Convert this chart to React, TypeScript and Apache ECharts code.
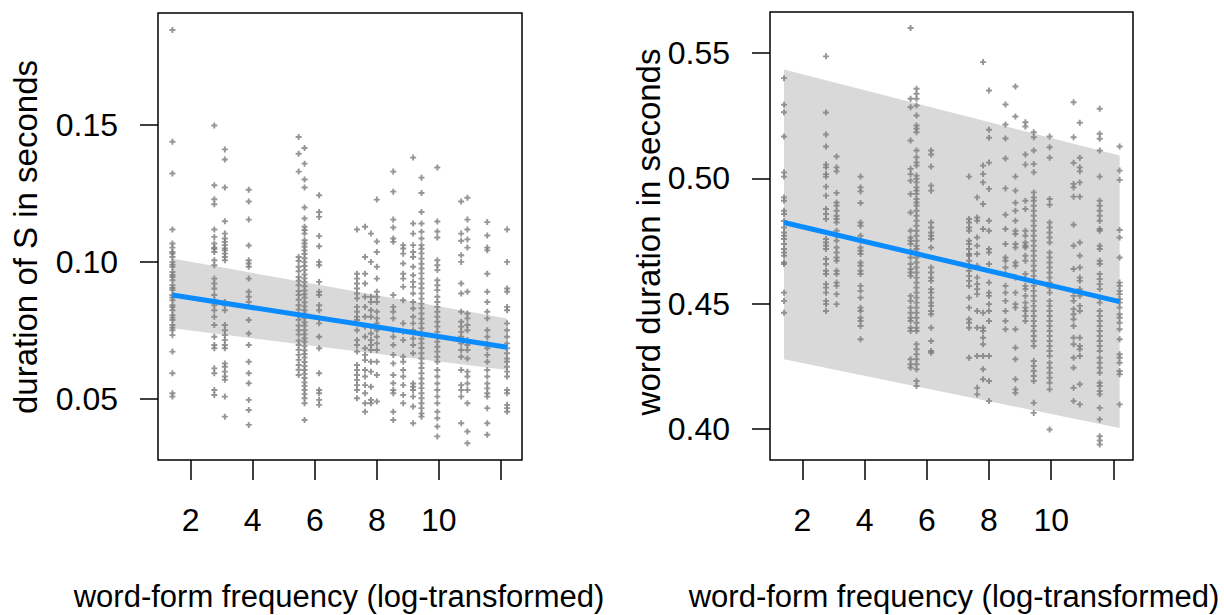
import { useEffect, useRef } from 'react';
import * as echarts from 'echarts';

// x positions (log word-form frequency) of the word columns, shared by both panels
const freqColumns = [1.41, 2.76, 3.1, 3.87, 5.48, 5.67, 6.14, 7.36, 7.62, 7.81, 8.0, 8.53, 8.85, 9.17, 9.44, 9.95, 10.72, 10.92, 11.56, 12.2];

// left panel: duration of S (seconds), one list per column
const durSByColumn: number[][] = [
  [0.1845, 0.1438, 0.1322, 0.1118, 0.1067, 0.1052, 0.1036, 0.103, 0.1018, 0.1, 0.099, 0.0982, 0.0963, 0.0952, 0.0945, 0.0933, 0.0915, 0.0905, 0.0897, 0.0879, 0.087, 0.086, 0.0842, 0.0835, 0.0824, 0.0806, 0.0797, 0.0788, 0.077, 0.076, 0.0751, 0.0733, 0.0673, 0.0594, 0.0521, 0.0509],
  [0.1497, 0.1279, 0.1228, 0.121, 0.1118, 0.1091, 0.1067, 0.1052, 0.1048, 0.1036, 0.1006, 0.0988, 0.0939, 0.0921, 0.0903, 0.0879, 0.086, 0.0842, 0.0824, 0.08, 0.077, 0.0727, 0.0697, 0.0685, 0.0612, 0.0594, 0.0533, 0.0515],
  [0.141, 0.1373, 0.1271, 0.1148, 0.1103, 0.1085, 0.1073, 0.1061, 0.1049, 0.1042, 0.103, 0.1018, 0.1006, 0.0854, 0.0842, 0.0824, 0.077, 0.0751, 0.0733, 0.0715, 0.0697, 0.0685, 0.063, 0.0618, 0.06, 0.0582, 0.057, 0.0509, 0.0436],
  [0.1263, 0.122, 0.1154, 0.106, 0.1006, 0.0994, 0.0982, 0.0939, 0.0891, 0.0873, 0.0854, 0.0788, 0.0739, 0.0697, 0.0636, 0.0594, 0.0558, 0.0497, 0.046, 0.0406],
  [0.1455, 0.1394, 0.1329, 0.1018, 0.1003, 0.0982, 0.0966, 0.0945, 0.0931, 0.0915, 0.0894, 0.0879, 0.0862, 0.0842, 0.0826, 0.0806, 0.0789, 0.0768, 0.0751, 0.0735, 0.0713, 0.0697, 0.068, 0.0661, 0.0643, 0.0624, 0.0607, 0.0588],
  [0.1415, 0.1358, 0.13, 0.1271, 0.1198, 0.1158, 0.1128, 0.1116, 0.1103, 0.1079, 0.1067, 0.1055, 0.1042, 0.1029, 0.1013, 0.0999, 0.0985, 0.097, 0.0954, 0.094, 0.0927, 0.0911, 0.0896, 0.0882, 0.0869, 0.0853, 0.0838, 0.0824, 0.0811, 0.0795, 0.078, 0.0767, 0.0751, 0.0736, 0.0722, 0.0709, 0.0693, 0.0678, 0.0664, 0.0651, 0.0635, 0.062, 0.0606, 0.0592, 0.0577, 0.0561, 0.0548, 0.0533, 0.0518, 0.0503, 0.0485, 0.0424],
  [0.1243, 0.1182, 0.1164, 0.1094, 0.1057, 0.1, 0.0988, 0.0927, 0.0891, 0.0879, 0.0842, 0.0824, 0.0794, 0.0776, 0.0727, 0.0685, 0.0594, 0.0533, 0.0521, 0.0497, 0.0479],
  [0.1118, 0.0957, 0.0939, 0.0921, 0.0903, 0.0885, 0.0867, 0.0836, 0.0818, 0.08, 0.0788, 0.0751, 0.0715, 0.0697, 0.0673, 0.0624, 0.0606, 0.0588, 0.057, 0.0551, 0.0533, 0.0503],
  [0.1128, 0.1018, 0.0957, 0.0921, 0.0873, 0.0836, 0.08, 0.0764, 0.0727, 0.0685, 0.0661, 0.0642, 0.0606, 0.0582, 0.0551, 0.0521, 0.0485, 0.0454],
  [0.1103, 0.1, 0.0873, 0.0854, 0.0824, 0.08, 0.0764, 0.0739, 0.0715, 0.0697, 0.0679, 0.0636, 0.06, 0.0545, 0.0497, 0.0485],
  [0.1227, 0.1074, 0.1036, 0.0982, 0.0939, 0.0891, 0.0873, 0.0854, 0.0818, 0.0794, 0.0776, 0.0751, 0.0727, 0.0703, 0.0679, 0.0636, 0.0588, 0.0491],
  [0.1329, 0.1256, 0.1154, 0.1125, 0.1085, 0.1073, 0.0879, 0.0836, 0.0818, 0.0794, 0.0751, 0.0727, 0.0697, 0.0661, 0.063, 0.0588, 0.0558, 0.0533, 0.0521, 0.0454, 0.0424],
  [0.1061, 0.1049, 0.103, 0.0994, 0.0957, 0.0939, 0.0909, 0.086, 0.0776, 0.0745, 0.0715, 0.0654, 0.0636, 0.0606, 0.0582, 0.0551, 0.0515, 0.0485],
  [0.138, 0.114, 0.1103, 0.1061, 0.1036, 0.1018, 0.0982, 0.0951, 0.0927, 0.0909, 0.0885, 0.0854, 0.083, 0.08, 0.0776, 0.0751, 0.0721, 0.0697, 0.0667, 0.0557, 0.0545, 0.0533, 0.0509, 0.0473, 0.0412],
  [0.1307, 0.1251, 0.1182, 0.114, 0.111, 0.1085, 0.1061, 0.1048, 0.1031, 0.1012, 0.0993, 0.0976, 0.0958, 0.0939, 0.0921, 0.0904, 0.0885, 0.0866, 0.0848, 0.0831, 0.0812, 0.0793, 0.0776, 0.0758, 0.0739, 0.072, 0.0703, 0.0686, 0.0667, 0.0648, 0.063, 0.0613, 0.0594, 0.0575, 0.0557, 0.054, 0.0521, 0.0503, 0.0485, 0.0467, 0.0448, 0.0436],
  [0.1344, 0.1147, 0.1111, 0.1089, 0.1006, 0.0988, 0.097, 0.0933, 0.0915, 0.0897, 0.0873, 0.0854, 0.0836, 0.0818, 0.08, 0.0782, 0.0764, 0.0745, 0.0727, 0.0709, 0.0691, 0.0673, 0.0654, 0.0636, 0.0606, 0.0582, 0.0557, 0.0533, 0.0509, 0.0485, 0.0454, 0.043, 0.04, 0.0364],
  [0.122, 0.1103, 0.1077, 0.1024, 0.1, 0.0921, 0.0885, 0.0818, 0.0782, 0.0764, 0.0745, 0.0727, 0.0703, 0.0679, 0.0654, 0.0606, 0.0551, 0.0533, 0.0509, 0.0412],
  [0.1234, 0.1154, 0.1118, 0.1082, 0.1052, 0.0891, 0.0812, 0.0794, 0.077, 0.0751, 0.0715, 0.0697, 0.0679, 0.0648, 0.06, 0.0582, 0.0557, 0.0533, 0.0485, 0.0382, 0.0339],
  [0.1145, 0.1096, 0.1052, 0.1042, 0.0957, 0.0891, 0.0854, 0.0818, 0.0794, 0.0751, 0.0727, 0.0703, 0.0685, 0.0661, 0.0636, 0.0606, 0.0582, 0.0557, 0.0539, 0.0521, 0.0509, 0.0467, 0.0412, 0.037],
  [0.1118, 0.1, 0.0903, 0.0891, 0.0836, 0.0824, 0.0776, 0.0751, 0.0727, 0.0703, 0.0685, 0.0667, 0.0648, 0.0636, 0.0618, 0.06, 0.0582, 0.0533, 0.0521, 0.0479, 0.0467, 0.0454],
];

// right panel: word duration (seconds), one list per column
const wordDurByColumn: number[][] = [
  [0.54, 0.5294, 0.5264, 0.5167, 0.5024, 0.5007, 0.4924, 0.4911, 0.4871, 0.4858, 0.483, 0.4804, 0.4784, 0.4771, 0.4758, 0.4738, 0.4718, 0.4704, 0.4691, 0.4664, 0.4658, 0.4544, 0.4511, 0.4464],
  [0.5487, 0.5263, 0.5175, 0.5127, 0.5055, 0.5044, 0.5017, 0.5007, 0.4967, 0.4931, 0.4878, 0.4858, 0.4838, 0.4758, 0.4744, 0.4731, 0.4718, 0.4678, 0.4658, 0.4631, 0.4618, 0.4578, 0.4564, 0.4544, 0.4511, 0.4498, 0.4471],
  [0.5087, 0.5044, 0.5028, 0.4942, 0.4904, 0.4891, 0.4871, 0.4851, 0.4838, 0.4824, 0.4791, 0.4771, 0.4751, 0.4724, 0.4704, 0.4684, 0.4671, 0.4631, 0.4618, 0.4584, 0.4571, 0.4538, 0.4498],
  [0.5007, 0.4964, 0.4948, 0.4902, 0.4824, 0.4811, 0.4771, 0.4751, 0.4724, 0.4711, 0.4698, 0.4664, 0.4651, 0.4631, 0.4618, 0.4571, 0.4551, 0.4524, 0.4484, 0.4471, 0.4444, 0.4431, 0.4411, 0.4358],
  [0.56, 0.5318, 0.5284, 0.5151, 0.5038, 0.5017, 0.4991, 0.4938, 0.4864, 0.4791, 0.4764, 0.4751, 0.4738, 0.4711, 0.4684, 0.4658, 0.4638, 0.4624, 0.4611, 0.4531, 0.4511, 0.4484, 0.4464, 0.4444, 0.4431, 0.4404, 0.4391, 0.4278, 0.4258, 0.4244],
  [0.5358, 0.5338, 0.5318, 0.5291, 0.5251, 0.5211, 0.5198, 0.5184, 0.5111, 0.5084, 0.5064, 0.5051, 0.5011, 0.4998, 0.4984, 0.4964, 0.4951, 0.4938, 0.4918, 0.4904, 0.4891, 0.4871, 0.4851, 0.4831, 0.4811, 0.4791, 0.4771, 0.4751, 0.4731, 0.4718, 0.4704, 0.4684, 0.4664, 0.4644, 0.4624, 0.4604, 0.4584, 0.4564, 0.4544, 0.4524, 0.4504, 0.4484, 0.4464, 0.4444, 0.4424, 0.4404, 0.4391, 0.4338, 0.4318, 0.4298, 0.4278, 0.4258, 0.4238, 0.4191, 0.4171],
  [0.5111, 0.5095, 0.5047, 0.4971, 0.4951, 0.4824, 0.4804, 0.4784, 0.4771, 0.4758, 0.4724, 0.4644, 0.4624, 0.4604, 0.4591, 0.4558, 0.4544, 0.4524, 0.4504, 0.4491, 0.4471, 0.4458, 0.4404, 0.4351, 0.4311, 0.4304],
  [0.5007, 0.4838, 0.4824, 0.4804, 0.4791, 0.4751, 0.4738, 0.4718, 0.4698, 0.4691, 0.4671, 0.4651, 0.4631, 0.4611, 0.4591, 0.4571, 0.4524, 0.4484, 0.4438, 0.4424, 0.4404, 0.4284],
  [0.4924, 0.4844, 0.4831, 0.4764, 0.4731, 0.4698, 0.4651, 0.4604, 0.4578, 0.4558, 0.4538, 0.4471, 0.4404, 0.4291, 0.4164, 0.4138],
  [0.5464, 0.5051, 0.5017, 0.4984, 0.4898, 0.4798, 0.4464, 0.4404, 0.4391, 0.4364, 0.4338, 0.4291, 0.4238, 0.4198],
  [0.5351, 0.5194, 0.5162, 0.5063, 0.4958, 0.4831, 0.4791, 0.4718, 0.4704, 0.4658, 0.4584, 0.4544, 0.4531, 0.4498, 0.4471, 0.4431, 0.4291, 0.4191, 0.4111],
  [0.5295, 0.5215, 0.5159, 0.5079, 0.496, 0.4855, 0.4798, 0.4738, 0.4684, 0.4671, 0.4644, 0.4618, 0.4571, 0.4544, 0.4511, 0.4471, 0.4431, 0.4398],
  [0.5367, 0.5247, 0.5007, 0.4951, 0.4903, 0.4871, 0.4831, 0.4791, 0.4778, 0.4738, 0.4724, 0.4664, 0.4651, 0.4604, 0.4544, 0.4498, 0.4484, 0.4398, 0.4324, 0.4278, 0.4198, 0.4158, 0.4144],
  [0.5224, 0.5207, 0.5095, 0.5055, 0.4911, 0.4878, 0.4791, 0.4771, 0.4744, 0.4731, 0.4724, 0.4691, 0.4671, 0.4618, 0.4598, 0.4571, 0.4558, 0.4531, 0.4504, 0.4484, 0.4471, 0.4451, 0.4431],
  [0.5184, 0.5164, 0.5111, 0.5057, 0.5024, 0.4944, 0.4924, 0.4911, 0.4891, 0.4871, 0.4851, 0.4831, 0.4811, 0.4791, 0.4771, 0.4751, 0.4731, 0.4711, 0.4691, 0.4671, 0.4651, 0.4631, 0.4611, 0.4591, 0.4571, 0.4551, 0.4531, 0.4511, 0.4491, 0.4471, 0.4451, 0.4431, 0.4411, 0.4391, 0.4371, 0.4351, 0.4331, 0.4271, 0.4251, 0.4231, 0.4211, 0.4191, 0.4104, 0.4064],
  [0.5167, 0.5124, 0.5082, 0.4918, 0.4895, 0.4824, 0.4804, 0.4784, 0.4764, 0.4744, 0.4704, 0.4684, 0.4664, 0.4644, 0.4624, 0.4604, 0.4584, 0.4564, 0.4544, 0.4511, 0.4491, 0.4471, 0.4451, 0.4431, 0.4411, 0.4391, 0.4371, 0.4351, 0.4331, 0.4311, 0.4291, 0.4264, 0.4244, 0.4224, 0.4204, 0.4184, 0.4158, 0.3998],
  [0.5304, 0.5164, 0.5062, 0.4978, 0.4964, 0.4927, 0.4815, 0.4731, 0.4638, 0.4531, 0.4511, 0.4478, 0.4458, 0.4438, 0.4411, 0.4364, 0.4338, 0.4284, 0.4244, 0.4164, 0.4111],
  [0.5222, 0.5082, 0.5044, 0.5028, 0.4984, 0.4927, 0.4744, 0.4691, 0.4644, 0.4604, 0.4591, 0.4558, 0.4531, 0.4491, 0.4471, 0.4364, 0.4331, 0.4318, 0.4291, 0.4178, 0.4098],
  [0.5278, 0.5178, 0.5158, 0.5111, 0.5007, 0.4911, 0.4891, 0.4871, 0.4851, 0.4831, 0.4798, 0.4791, 0.4731, 0.4718, 0.4671, 0.4658, 0.4618, 0.4598, 0.4578, 0.4558, 0.4524, 0.4504, 0.4471, 0.4451, 0.4431, 0.4411, 0.4391, 0.4371, 0.4351, 0.4331, 0.4311, 0.4284, 0.4264, 0.4244, 0.4224, 0.4184, 0.4171, 0.4151, 0.4138, 0.4084, 0.4038, 0.3971, 0.3954, 0.3938],
  [0.5127, 0.5031, 0.4994, 0.4794, 0.4764, 0.4684, 0.4584, 0.4571, 0.4551, 0.4538, 0.4518, 0.4504, 0.4484, 0.4458, 0.4444, 0.4424, 0.4398, 0.4358, 0.4298, 0.4284, 0.4264, 0.4231, 0.4218, 0.4098],
];

// fitted regression lines with their bands (at the ends of the frequency range)
const fitX = [1.41, 12.2];
const durSFit = [0.0879, 0.0689];
const durSUpper = [0.1012, 0.0794];
const durSLower = [0.0758, 0.0606];
const wordDurFit = [0.4824, 0.4508];
const wordDurUpper = [0.5435, 0.5091];
const wordDurLower = [0.4278, 0.4004];

// axes
const xTicks = [2, 4, 6, 8, 10, 12];
const xTickLabels = [2, 4, 6, 8, 10];
const durSTicks = [0.05, 0.1, 0.15];
const wordDurTicks = [0.4, 0.45, 0.5, 0.55];

const xTitle = 'word-form frequency (log-transformed)';
const durSTitle = 'duration of S in seconds';
const wordDurTitle = 'word duration in seconds';

const FONT = '"Liberation Sans", Arial, sans-serif';
const PLUS = 'path://M3.4,0H6.6V3.4H10V6.6H6.6V10H3.4V6.6H0V3.4H3.4Z';
const POINT = '#7a7a7a';
const BAND = '#d9d9d9';
const LINE = '#0a8cff';

function xAxisCfg(gridIndex: number, min: number, max: number) {
  return {
    gridIndex,
    type: 'value',
    min,
    max,
    axisLine: { show: false, onZero: false },
    splitLine: { show: false },
    axisTick: { show: true, customValues: xTicks, length: 20, lineStyle: { color: '#000', width: 1.5 } },
    axisLabel: {
      customValues: xTickLabels,
      margin: 44,
      fontSize: 32,
      lineHeight: 32,
      color: '#000',
      fontFamily: FONT,
    },
  };
}

function yAxisCfg(gridIndex: number, min: number, max: number, ticks: number[], pad: number) {
  return {
    gridIndex,
    type: 'value',
    min,
    max,
    axisLine: { show: false, onZero: false },
    splitLine: { show: false },
    axisTick: { show: true, customValues: ticks, length: 18, lineStyle: { color: '#000', width: 1.5 } },
    axisLabel: {
      customValues: ticks,
      formatter: (v: number) => v.toFixed(2),
      margin: 40,
      fontSize: 32,
      lineHeight: 32,
      padding: [pad, 0, 0, 0],
      color: '#000',
      fontFamily: FONT,
    },
  };
}

function bandSeries(idx: number, upper: number[], lower: number[]) {
  return {
    type: 'custom',
    xAxisIndex: idx,
    yAxisIndex: idx,
    silent: true,
    z: 1,
    data: [[fitX[0], lower[0]]],
    renderItem: (_params: any, api: any) => ({
      type: 'polygon',
      shape: {
        points: [
          api.coord([fitX[0], upper[0]]),
          api.coord([fitX[1], upper[1]]),
          api.coord([fitX[1], lower[1]]),
          api.coord([fitX[0], lower[0]]),
        ],
      },
      style: { fill: BAND },
    }),
  };
}

function pointSeries(idx: number, byColumn: number[][]) {
  return {
    type: 'scatter',
    xAxisIndex: idx,
    yAxisIndex: idx,
    z: 2,
    symbol: PLUS,
    symbolSize: 6,
    itemStyle: { color: POINT },
    data: freqColumns.flatMap((x, i) => byColumn[i].map((v) => [x, v])),
  };
}

function fitSeries(idx: number, fit: number[]) {
  return {
    type: 'line',
    xAxisIndex: idx,
    yAxisIndex: idx,
    z: 3,
    showSymbol: false,
    lineStyle: { color: LINE, width: 5 },
    data: fitX.map((x, i) => [x, fit[i]]),
  };
}

export default function App() {
  const ref = useRef<HTMLDivElement>(null);
  useEffect(() => {
    if (!ref.current) return;
    const chart = echarts.init(ref.current, null, { renderer: 'svg' });
    chart.setOption({
      animation: false,
      backgroundColor: '#fff',
      grid: [
        { left: 158, top: 13, width: 364, height: 447, show: true, borderColor: '#000', borderWidth: 1.5, backgroundColor: 'transparent' },
        { left: 770, top: 12, width: 363, height: 448, show: true, borderColor: '#000', borderWidth: 1.5, backgroundColor: 'transparent' },
      ],
      xAxis: [xAxisCfg(0, 0.945, 12.68), xAxisCfg(1, 0.96, 12.63)],
      yAxis: [
        yAxisCfg(0, 0.0278, 0.1907, durSTicks, 7),
        yAxisCfg(1, 0.3876, 0.5664, wordDurTicks, 0),
      ],
      series: [
        bandSeries(0, durSUpper, durSLower),
        pointSeries(0, durSByColumn),
        fitSeries(0, durSFit),
        bandSeries(1, wordDurUpper, wordDurLower),
        pointSeries(1, wordDurByColumn),
        fitSeries(1, wordDurFit),
      ],
      graphic: [
        {
          type: 'text', x: 25, y: 237, rotation: Math.PI / 2,
          style: { text: durSTitle, fontSize: 33, fontFamily: FONT, fill: '#000', align: 'center', verticalAlign: 'middle' },
        },
        {
          type: 'text', x: 648, y: 232, rotation: Math.PI / 2,
          style: { text: wordDurTitle, fontSize: 33, fontFamily: FONT, fill: '#000', align: 'center', verticalAlign: 'middle' },
        },
        {
          type: 'text', x: 339, y: 596,
          style: { text: xTitle, fontSize: 31, lineHeight: 31, fontFamily: FONT, fill: '#000', align: 'center', verticalAlign: 'middle' },
        },
        {
          type: 'text', x: 954, y: 596,
          style: { text: xTitle, fontSize: 31, lineHeight: 31, fontFamily: FONT, fill: '#000', align: 'center', verticalAlign: 'middle' },
        },
      ],
    });
    return () => chart.dispose();
  }, []);
  return <div ref={ref} style={{ position: 'absolute', left: 0, top: 0, width: 1224, height: 615 }} />;
}
